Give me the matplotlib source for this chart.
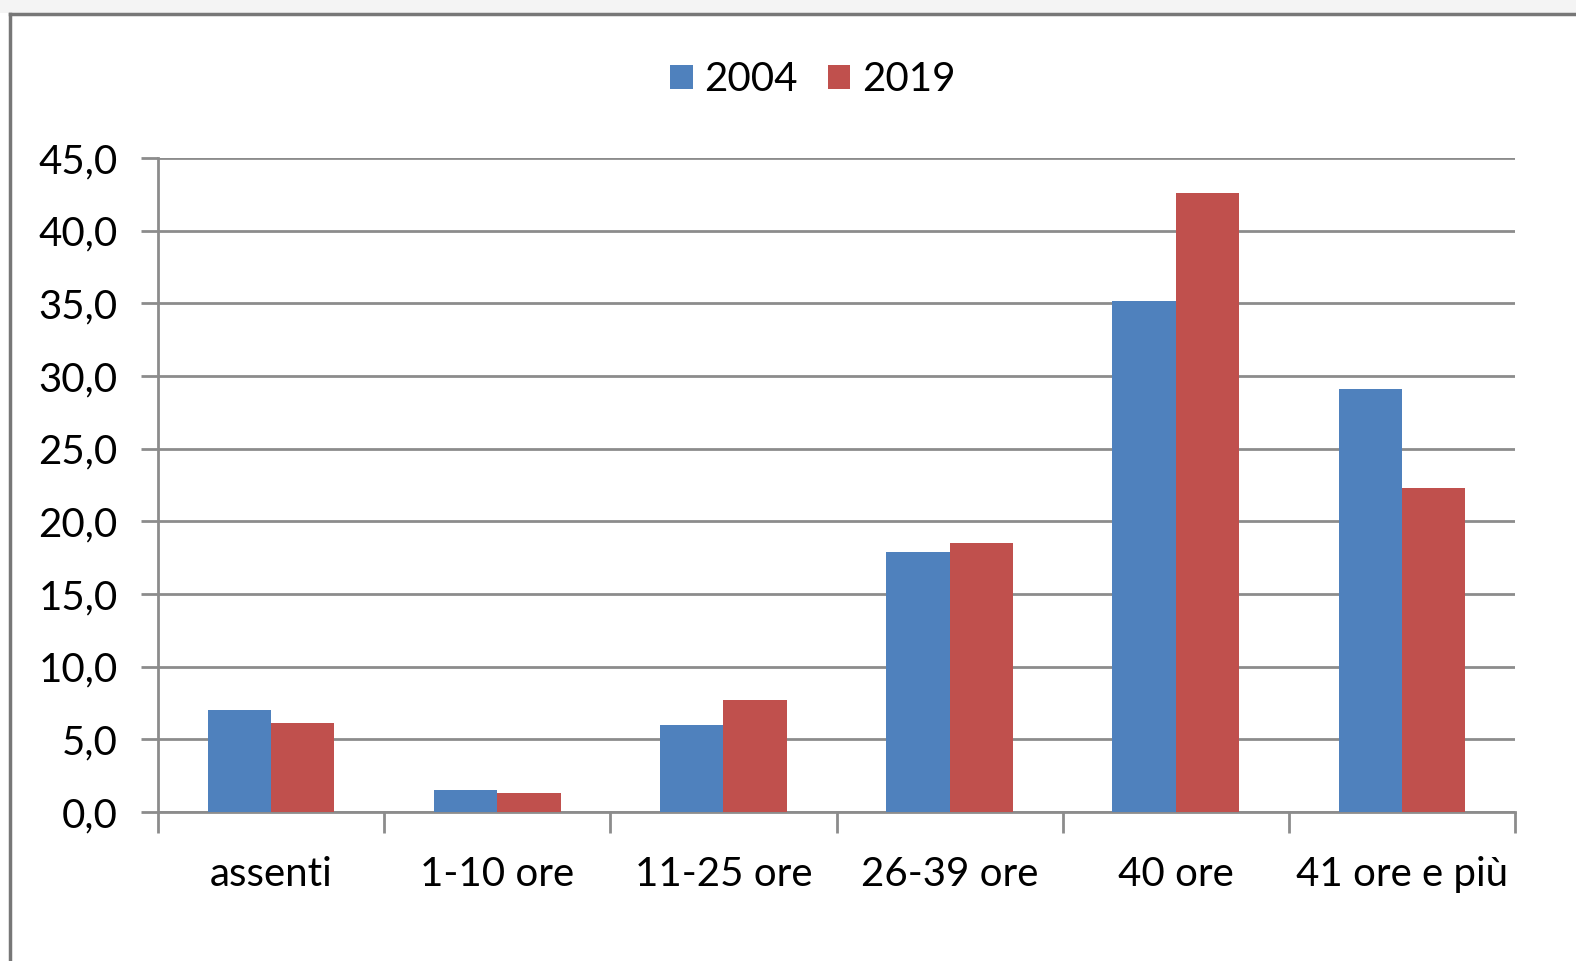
import numpy as np
import matplotlib
matplotlib.use("Agg")
import matplotlib.pyplot as plt
from matplotlib.patches import Rectangle
from matplotlib.lines import Line2D

matplotlib.rcParams["font.family"] = ["Lato", "DejaVu Sans"]

categories = ["assenti", "1-10 ore", "11-25 ore", "26-39 ore", "40 ore", "41 ore e più"]
values_2004 = [7.0, 1.5, 6.0, 17.9, 35.2, 29.1]
values_2019 = [6.1, 1.3, 7.7, 18.5, 42.6, 22.3]
series_labels = ["2004", "2019"]
yticks = [0, 5, 10, 15, 20, 25, 30, 35, 40, 45]

blue = "#4F81BD"
red = "#C0504D"
grid_gray = "#8C8C8C"

fig = plt.figure(figsize=(15.76, 9.61), dpi=100)
ax = fig.add_axes([0.1003, 0.155, 0.861, 0.6805])

x = np.arange(len(categories))
w = 0.28
ax.bar(x - w / 2, values_2004, width=w, color=blue, label=series_labels[0], zorder=3)
ax.bar(x + w / 2, values_2019, width=w, color=red, label=series_labels[1], zorder=3)

ax.set_xlim(-0.5, len(categories) - 0.5)
ax.set_ylim(0, 45)
ax.set_yticks(yticks)
ax.set_yticklabels([f"{v:.1f}".replace(".", ",") for v in yticks])
ax.yaxis.grid(True, color=grid_gray, lw=2, zorder=0)

# category ticks at the boundaries, labels in the middle
ax.set_xticks(np.arange(len(categories) + 1) - 0.5)
ax.set_xticklabels([])
ax.set_xticks(x, minor=True)
ax.set_xticklabels(categories, minor=True)
ax.tick_params(axis="x", which="major", length=15, width=2, color=grid_gray)
ax.tick_params(axis="x", which="minor", length=0, pad=32, labelsize=29)
ax.tick_params(axis="y", length=12, width=2, color=grid_gray, pad=17, labelsize=29)

for s in ["top", "right"]:
    ax.spines[s].set_visible(False)
for s in ["left", "bottom"]:
    ax.spines[s].set_color(grid_gray)
    ax.spines[s].set_linewidth(2)

ax.legend(loc="center", bbox_to_anchor=(0.516, 0.917), bbox_transform=fig.transFigure,
          ncol=2, frameon=False, fontsize=29, handlelength=0.55, handleheight=0.55,
          handletextpad=0.3, columnspacing=0.75)

# chart frame like the spreadsheet window
fig.add_artist(Rectangle((0, 1 - 13 / 961), 1, 13 / 961, transform=fig.transFigure,
                         facecolor="#F4F4F4", edgecolor="none"))
fig.add_artist(Line2D([10 / 1576, 1], [1 - 14 / 961] * 2, transform=fig.transFigure,
                      color="#777777", lw=2.5))
fig.add_artist(Line2D([10 / 1576] * 2, [0, 1 - 14 / 961], transform=fig.transFigure,
                      color="#777777", lw=2.5))

fig.savefig("out.png", dpi=100)
plt.close(fig)
